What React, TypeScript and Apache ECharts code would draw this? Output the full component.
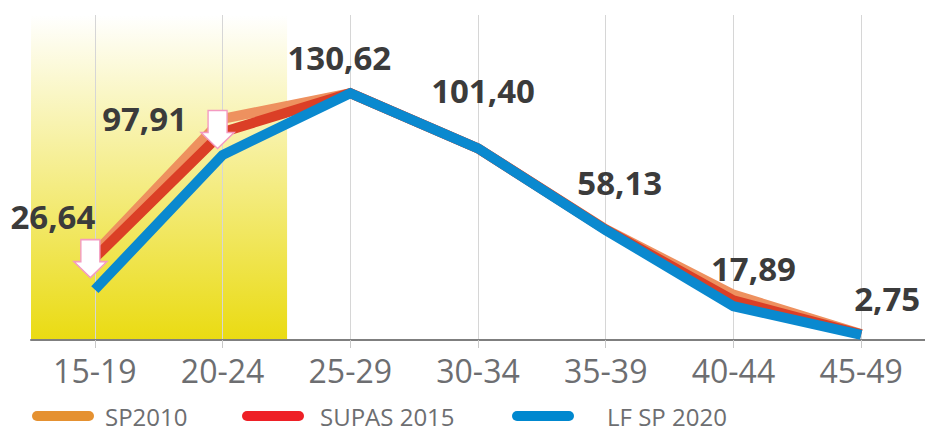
import React, { useEffect, useRef } from "react";
import * as echarts from "echarts";

const categories = ["15-19", "20-24", "25-29", "30-34", "35-39", "40-44", "45-49"];
const sp2010 = [46, 117, 130.62, 101.4, 58.6, 24, 3.2];
const supas2015 = [43.5, 110, 130.62, 101.4, 58.4, 21, 3.0];
const lfsp2020 = [26.64, 97.91, 130.62, 101.4, 58.13, 17.89, 2.75];
const labelTexts = ["26,64", "97,91", "130,62", "101,40", "58,13", "17,89", "2,75"];
const highlightedCategories = ["15-19", "20-24"];
const arrowCategories = ["15-19", "20-24"];
const seriesNames = ["SP2010", "SUPAS 2015", "LF SP 2020"];

const Y_MAX = 172;
const labelOffsets: [number, number][] = [
  [-42, -73],
  [-78, -36],
  [-11, -36],
  [5, -58],
  [14, -48],
  [20, -38],
  [26, -36],
];
const arrowOffsets: [number, number][] = [
  [-4.5, -31],
  [-5, -25.5],
];

const ARROW = "path://M7,0 L26,0 L26,22 L33,22 L16.5,38 L0,22 L7,22 Z";
const PILL = "path://M5,0 L57,0 A5,5 0 0 1 57,10 L5,10 A5,5 0 0 1 5,0 Z";

export default function App() {
  const ref = useRef<HTMLDivElement>(null);
  useEffect(() => {
    if (!ref.current) return;
    const chart = echarts.init(ref.current, undefined, { renderer: "svg" });
    const font = "'Open Sans', 'Noto Sans', sans-serif";
    const legendColors = ["#E59131", "#EE2026", "#0088CF"];
    const lineColors = ["#EE915F", "#DB3F26", "#0A89CF"];
    const legendLefts = [32, 242, 512];
    const legendPads = [6, 11, 28];

    const option: any = {
      animation: false,
      grid: { left: 31, right: 0, top: 15, bottom: 91, containLabel: false },
      xAxis: {
        type: "category",
        data: categories,
        boundaryGap: true,
        axisLine: { show: true, lineStyle: { color: "#7F7F7F", width: 2 } },
        axisTick: { show: true, alignWithLabel: true, length: 8, lineStyle: { color: "#C8C8C8", width: 1 } },
        axisLabel: { color: "#6D6E71", fontSize: 32, fontFamily: font, margin: 14, interval: 0 },
        splitLine: { show: true, alignWithLabel: true, interval: 0, lineStyle: { color: "#D6D6D6", width: 1 } },
      },
      yAxis: { type: "value", min: 0, max: Y_MAX, show: false, splitLine: { show: false } },
      legend: seriesNames.map((n, i) => ({
        data: [{ name: n, itemStyle: { color: legendColors[i], opacity: 1 } }],
        left: legendLefts[i],
        top: 404,
        padding: 0,
        icon: PILL,
        itemWidth: 62,
        itemHeight: 10,
        selectedMode: false,
        textStyle: {
          color: "#6D6E71",
          fontSize: 24,
          fontFamily: font,
          lineHeight: 22,
          padding: [0, 0, 0, legendPads[i]],
        },
      })),
      series: [
        {
          type: "bar",
          name: "highlight",
          z: -1,
          silent: true,
          barWidth: 129,
          data: categories.map((c) => (highlightedCategories.includes(c) ? Y_MAX : null)),
          itemStyle: {
            color: new echarts.graphic.LinearGradient(0, 0, 0, 1, [
              { offset: 0, color: "#FFFFFF" },
              { offset: 1, color: "#EADB12" },
            ]),
          },
        },
        ...[sp2010, supas2015].map((d, i) => ({
          type: "line",
          name: seriesNames[i],
          data: d,
          showSymbol: false,
          symbol: "none",
          z: 3 + i,
          itemStyle: { color: lineColors[i] },
          lineStyle: { color: lineColors[i], width: 10, join: "miter", cap: "butt" },
        })),
        {
          type: "line",
          name: seriesNames[2],
          data: lfsp2020.map((v, i) => ({
            value: v,
            label: {
              show: true,
              position: "inside",
              offset: labelOffsets[i],
              formatter: labelTexts[i],
            },
          })),
          showSymbol: true,
          symbol: "circle",
          symbolSize: 1,
          itemStyle: { color: "rgba(0,0,0,0)" },
          z: 6,
          lineStyle: { color: lineColors[2], width: 10, join: "miter", cap: "butt" },
          label: {
            show: true,
            color: "#3B3B3B",
            fontSize: 33,
            fontWeight: "bold",
            fontFamily: font,
          },
          markPoint: {
            silent: true,
            symbol: ARROW,
            symbolSize: [33, 38],
            symbolKeepAspect: false,
            label: { show: false },
            itemStyle: { color: "#FFFFFF", borderColor: "#F49AC1", borderWidth: 1.5 },
            data: arrowCategories.map((c, i) => ({
              coord: [c, lfsp2020[categories.indexOf(c)]],
              symbolOffset: arrowOffsets[i],
            })),
          },
        },
      ],
    };
    chart.setOption(option);
    return () => chart.dispose();
  }, []);
  return (
    <div
      ref={ref}
      style={{ position: "fixed", left: 0, top: 0, width: 925, height: 431, background: "#FFFFFF" }}
    />
  );
}
